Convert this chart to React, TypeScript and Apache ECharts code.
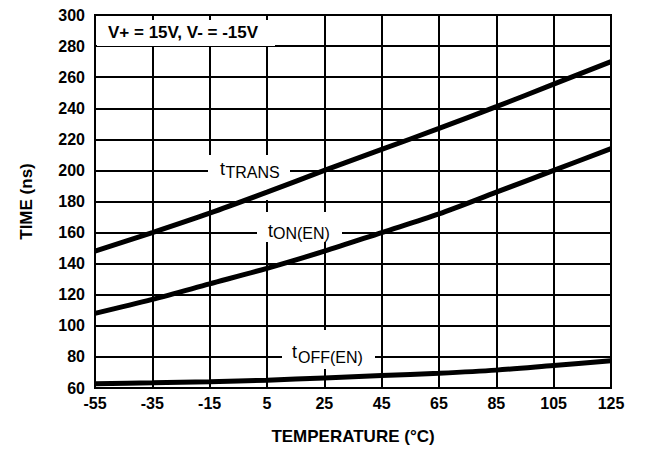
import React, { useEffect, useRef } from "react";
import * as echarts from "echarts";

const X_MIN = -55;
const temps = [-55, -35, -15, 5, 25, 45, 65, 85, 105, 125];
const tTrans = [148, 160, 172.5, 186, 200, 213.5, 227, 241, 255.5, 270];
const tOnEn = [108, 117, 127, 137, 148, 160, 172, 186, 200, 214];
const tOffEn = [62.8, 63.3, 64, 65, 66.5, 68, 69.5, 71.5, 74.5, 77.5];

const FONT = "'Liberation Sans', Arial, Helvetica, sans-serif";

const toPairs = (ys: number[]) => temps.map((t, i) => [t - X_MIN, ys[i]]);

export default function App() {
  const ref = useRef<HTMLDivElement>(null);
  useEffect(() => {
    if (!ref.current) return;
    const chart = echarts.init(ref.current, undefined, { renderer: "svg" });
    const lineSeries = (name: string, ys: number[]) => ({
      type: "line" as const,
      name,
      data: toPairs(ys),
      symbol: "none",
      smooth: 0.3,
      lineStyle: { color: "#000", width: 5 },
      z: 3,
    });
    const whiteRect = (x: number, y: number, w: number, h: number) => ({
      type: "rect",
      shape: { x, y, width: w, height: h },
      style: { fill: "#fff" },
      z: 1,
      silent: true,
    });
    const txt = (x: number, y: number, text: string, size: number, weight = "normal") => ({
      type: "text",
      x,
      y,
      z: 5,
      style: {
        text,
        fill: "#000",
        font: `${weight} ${size}px ${FONT}`,
        textAlign: "left",
        textVerticalAlign: "middle",
      },
    });
    chart.setOption({
      animation: false,
      backgroundColor: "#fff",
      grid: { left: 95, right: 34, top: 15, bottom: 65, show: true, borderColor: "#000", borderWidth: 2 },
      xAxis: {
        type: "value",
        min: 0,
        max: 180,
        interval: 20,
        name: "TEMPERATURE (°C)",
        nameLocation: "middle",
        nameGap: 40,
        nameTextStyle: { color: "#000", fontFamily: FONT, fontWeight: "bold", fontSize: 17 },
        axisLine: { show: true, lineStyle: { color: "#000", width: 2 } },
        axisTick: { show: false },
        splitLine: { show: true, lineStyle: { color: "#000", width: 2 } },
        axisLabel: {
          color: "#000",
          fontFamily: FONT,
          fontWeight: "bold",
          fontSize: 16,
          margin: 7,
          formatter: (v: number) => String(v + X_MIN),
        },
      },
      yAxis: {
        type: "value",
        min: 60,
        max: 300,
        interval: 20,
        name: "TIME (ns)",
        nameLocation: "middle",
        nameGap: 60,
        nameTextStyle: { color: "#000", fontFamily: FONT, fontWeight: "bold", fontSize: 17 },
        axisLine: { show: true, lineStyle: { color: "#000", width: 2 } },
        axisTick: { show: false },
        splitLine: { show: true, lineStyle: { color: "#000", width: 2 } },
        axisLabel: { color: "#000", fontFamily: FONT, fontWeight: "bold", fontSize: 16, margin: 10 },
      },
      series: [
        lineSeries("tTRANS", tTrans),
        lineSeries("tON(EN)", tOnEn),
        lineSeries("tOFF(EN)", tOffEn),
      ],
      graphic: [
        whiteRect(97, 20, 178, 26),
        whiteRect(208, 155, 82, 45),
        whiteRect(260, 205, 6, 10),
        whiteRect(257, 212, 85, 30),
        whiteRect(282, 330, 93, 39),
        txt(108, 32, "V+ = 15V, V- = -15V", 17, "bold"),
        txt(220, 169, "t", 18),
        txt(225.5, 172.5, "TRANS", 16),
        txt(268, 231, "t", 18),
        txt(273, 233.5, "ON(EN)", 16),
        txt(292, 352, "t", 18),
        txt(298, 357.5, "OFF(EN)", 16),
      ],
    });
    return () => chart.dispose();
  }, []);
  return <div ref={ref} style={{ width: 645, height: 453, position: "absolute", left: 0, top: 0 }} />;
}
